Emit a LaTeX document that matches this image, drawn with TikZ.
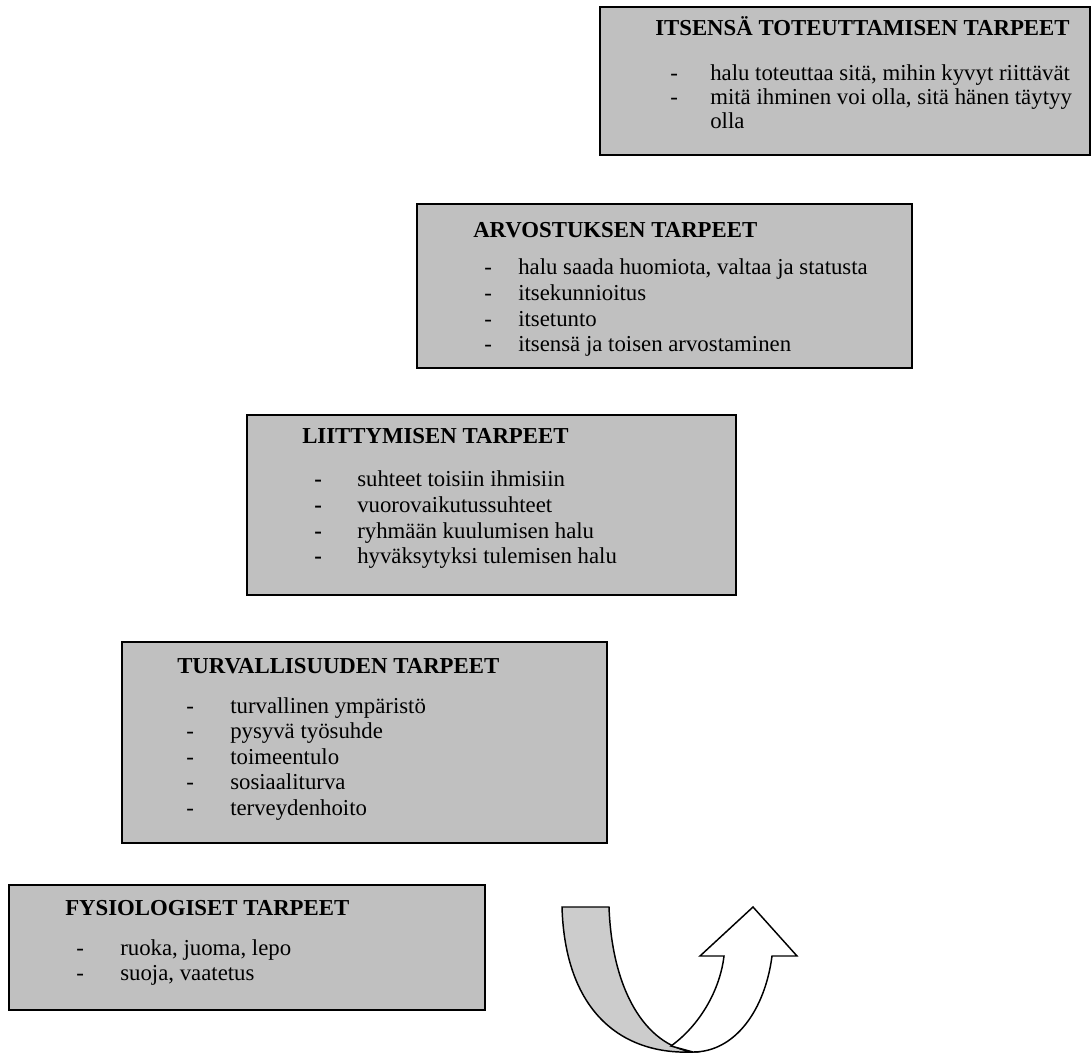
\documentclass[tikz,border=0pt]{standalone}
\usepackage{fontspec}
\setmainfont{Liberation Serif}
\definecolor{boxgray}{HTML}{C0C0C0}
\definecolor{ribbongray}{HTML}{CCCCCC}
\begin{document}
\begin{tikzpicture}[x=0.75pt,y=-0.75pt,
  box/.style={draw=black, fill=boxgray, line width=1.5pt},
  txt/.style={anchor=base west, inner sep=0pt, font=\fontsize{17.1}{20}\selectfont},
  ttl/.style={anchor=base west, inner sep=0pt, font=\fontsize{17.1}{20}\selectfont\bfseries},
  ribbon/.style={draw=black, line width=1.1pt, line join=miter}]
\useasboundingbox (0,0) rectangle (1091,1053);

% level 5
\draw[box] (600,7) rectangle (1090,155);
\node[ttl] (t5) at (655,36) {ITSENSÄ TOTEUTTAMISEN TARPEET};
\node[txt] (d51) at (670,80) {-};
\node[txt] (i51) at (710,80) {halu toteuttaa sitä, mihin kyvyt riittävät};
\node[txt] (d52) at (670,104) {-};
\node[txt] (i52) at (710,104) {mitä ihminen voi olla, sitä hänen täytyy};
\node[txt] (i53) at (710,128) {olla};

% level 4
\draw[box] (417,204) rectangle (912,368);
\node[ttl] (t4) at (473,237) {ARVOSTUKSEN TARPEET};
\node[txt] (d41) at (484,274) {-};
\node[txt] (i41) at (518,274) {halu saada huomiota, valtaa ja statusta};
\node[txt] (d42) at (484,300) {-};
\node[txt] (i42) at (518,300) {itsekunnioitus};
\node[txt] (d43) at (484,326) {-};
\node[txt] (i43) at (518,326) {itsetunto};
\node[txt] (d44) at (484,351) {-};
\node[txt] (i44) at (518,351) {itsensä ja toisen arvostaminen};

% level 3
\draw[box] (247,415) rectangle (736,595);
\node[ttl] (t3) at (302,443) {LIITTYMISEN TARPEET};
\node[ttl] (d31) at (314,486) {-};
\node[txt] (i31) at (357,486) {suhteet toisiin ihmisiin};
\node[ttl] (d32) at (314,512) {-};
\node[txt] (i32) at (357,512) {vuorovaikutussuhteet};
\node[ttl] (d33) at (314,538) {-};
\node[txt] (i33) at (357,538) {ryhmään kuulumisen halu};
\node[ttl] (d34) at (314,563) {-};
\node[txt] (i34) at (357,563) {hyväksytyksi tulemisen halu};

% level 2
\draw[box] (122,642) rectangle (607,843);
\node[ttl] (t2) at (177,673) {TURVALLISUUDEN TARPEET};
\node[txt] (d21) at (186,713) {-};
\node[txt] (i21) at (230,713) {turvallinen ympäristö};
\node[txt] (d22) at (186,738.5) {-};
\node[txt] (i22) at (230,738.5) {pysyvä työsuhde};
\node[txt] (d23) at (186,764) {-};
\node[txt] (i23) at (230,764) {toimeentulo};
\node[txt] (d24) at (186,789.5) {-};
\node[txt] (i24) at (230,789.5) {sosiaaliturva};
\node[txt] (d25) at (186,815) {-};
\node[txt] (i25) at (230,815) {terveydenhoito};

% level 1
\draw[box] (9,885) rectangle (485,1010);
\node[ttl] (t1) at (65,915) {FYSIOLOGISET TARPEET};
\node[txt] (d11) at (76,955) {-};
\node[txt] (i11) at (120,955) {ruoka, juoma, lepo};
\node[txt] (d12) at (76,980) {-};
\node[txt] (i12) at (120,980) {suoja, vaatetus};

% U-turn arrow: shaded back strip, then the white rising front with its head
\draw[ribbon, fill=ribbongray] (562,907) -- (609,907)
  .. controls (612,990) and (645,1045) .. (693,1052)
  .. controls (620,1055) and (565,1010) .. (562,907) -- cycle;
\draw[ribbon, fill=white] (671,1046)
  .. controls (700,1025) and (720,990) .. (724,956)
  -- (700,956) -- (753,907) -- (797,956) -- (772,956)
  .. controls (765,1010) and (735,1052) .. (693,1052) -- cycle;
\end{tikzpicture}
\end{document}
